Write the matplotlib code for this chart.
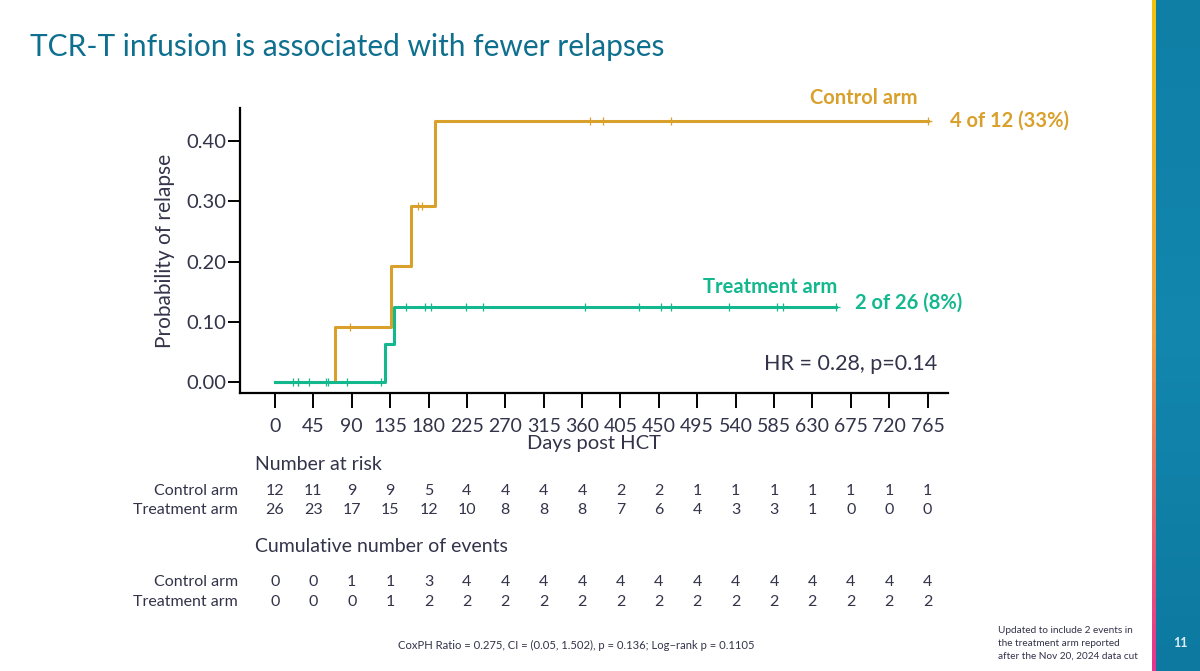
import numpy as np
import matplotlib.pyplot as plt
import matplotlib.transforms as mtransforms
from matplotlib.colors import LinearSegmentedColormap

plt.rcParams['font.family'] = ['Lato', 'DejaVu Sans']

# step curves (days, cumulative incidence)
control_t = [0, 70, 135.6, 160, 187.6, 765]
control_p = [0, 0.091, 0.192, 0.293, 0.434, 0.434]
treat_t = [0, 129, 140, 658]
treat_p = [0, 0.0625, 0.125, 0.125]

# censor marks (days)
control_cens = [27, 88, 168, 172, 369, 384, 464, 765]
treat_cens = [21, 27, 40, 60, 62, 84, 124, 154, 176, 183, 224, 244, 364,
              427, 453, 464, 532, 588, 595, 658]

ticks = list(range(0, 766, 45))
risk_control = [12, 11, 9, 9, 5, 4, 4, 4, 4, 2, 2, 1, 1, 1, 1, 1, 1, 1]
risk_treat = [26, 23, 17, 15, 12, 10, 8, 8, 8, 7, 6, 4, 3, 3, 1, 0, 0, 0]
events_control = [0, 0, 1, 1, 3, 4, 4, 4, 4, 4, 4, 4, 4, 4, 4, 4, 4, 4]
events_treat = [0, 0, 0, 1, 2, 2, 2, 2, 2, 2, 2, 2, 2, 2, 2, 2, 2, 2]

orange = '#D9A02B'
green = '#14B88E'
dark = '#33334A'
teal = '#0E6F8E'

W, H = 1200, 671
fig = plt.figure(figsize=(12, 6.71), dpi=100)


def fx(px):
    return px / W


def fy(py):
    return 1 - py / H


def level(times, probs, c):
    # value of the step curve at day c
    return probs[np.searchsorted(times, c, side='right') - 1]


ax = fig.add_axes([fx(240), fy(393), fx(948 - 240), (393 - 108) / H])
ax.set_xlim(-41, 789)
ax.set_ylim(-0.018, 0.455)

ax.step(control_t, control_p, where='post', color=orange, lw=2.2, zorder=2)
ax.step(treat_t, treat_p, where='post', color=green, lw=2.2, zorder=3)

# censor ticks on the curves
ax.plot(control_cens, [level(control_t, control_p, c) for c in control_cens],
        '+', color=orange, ms=6, mew=0.9, zorder=2)
ax.plot(treat_cens, [level(treat_t, treat_p, c) for c in treat_cens],
        '+', color=green, ms=6, mew=0.9, zorder=3)

for s in ['top', 'right']:
    ax.spines[s].set_visible(False)
for s in ['left', 'bottom']:
    ax.spines[s].set_linewidth(1.6)
    ax.spines[s].set_color('black')

ax.set_yticks([0, 0.1, 0.2, 0.3, 0.4])
ax.set_yticklabels(['0.00', '0.10', '0.20', '0.30', '0.40'])
ax.set_xticks(ticks)
ax.set_xticklabels([str(t) for t in ticks])
ax.tick_params(axis='y', direction='out', length=9, width=1.4, labelsize=14.5,
               labelcolor=dark, pad=1)
ax.tick_params(axis='x', direction='out', length=11, width=1.4, labelsize=14,
               labelcolor=dark, pad=7)
ax.set_ylabel('Probability of relapse', fontsize=15, color=dark, labelpad=8)
ax.set_xlabel('Days post HCT', fontsize=14.5, color=dark, labelpad=0)

# curve labels
fig.text(fx(917), fy(98), 'Control arm', color=orange, fontsize=14.5,
         fontweight='bold', ha='right', va='center')
fig.text(fx(950), fy(121), '4 of 12 (33%)', color=orange, fontsize=14.5,
         fontweight='bold', ha='left', va='center')
fig.text(fx(837), fy(287), 'Treatment arm', color=green, fontsize=14.5,
         fontweight='bold', ha='right', va='center')
fig.text(fx(855), fy(303), '2 of 26 (8%)', color=green, fontsize=14.5,
         fontweight='bold', ha='left', va='center')
fig.text(fx(937), fy(364), 'HR = 0.28, p=0.14', color=dark, fontsize=15.5,
         ha='right', va='center')

# title
fig.text(fx(30), fy(47), 'TCR-T infusion is associated with fewer relapses',
         color=teal, fontsize=21.5, ha='left', va='center')

# tables below the plot
blend = mtransforms.blended_transform_factory(ax.transData, fig.transFigure)
fig.text(fx(255), fy(464), 'Number at risk', color=dark, fontsize=14,
         ha='left', va='center')
fig.text(fx(255), fy(547), 'Cumulative number of events', color=dark,
         fontsize=14, ha='left', va='center')

rows = [(491, 'Control arm', risk_control), (510, 'Treatment arm', risk_treat),
        (582, 'Control arm', events_control), (602, 'Treatment arm', events_treat)]
for py, name, vals in rows:
    fig.text(fx(238), fy(py), name, color=dark, fontsize=11.5, ha='right', va='center')
    for t, v in zip(ticks, vals):
        ax.text(t, fy(py), str(v), color=dark, fontsize=11.5, ha='center',
                va='center', transform=blend)

fig.text(fx(576), fy(645),
         'CoxPH Ratio = 0.275, CI = (0.05, 1.502), p = 0.136; Log\u2212rank p = 0.1105',
         color=dark, fontsize=8.1, ha='center', va='center')
fig.text(fx(998), fy(643),
         'Updated to include 2 events in\nthe treatment arm reported\nafter the Nov 20, 2024 data cut',
         color=dark, fontsize=7.2, ha='left', va='center', linespacing=1.55)

# right side band
band = fig.add_axes([fx(1156), 0, fx(44), 1])
band.imshow(np.linspace(0, 1, 100).reshape(-1, 1), aspect='auto',
            cmap=LinearSegmentedColormap.from_list('b', ['#0F7FA6', '#1387AE', '#0D79A0']))
band.axis('off')
stripe = fig.add_axes([fx(1152), 0, fx(4), 1])
stripe.imshow(np.linspace(0, 1, 100).reshape(-1, 1), aspect='auto',
              cmap=LinearSegmentedColormap.from_list('s', ['#F4C20D', '#EFA040', '#E5358E']))
stripe.axis('off')
fig.text(fx(1180), fy(643), '11', color='#DDEFF5', fontsize=9, fontweight='bold',
         ha='center', va='center')

fig.savefig('out.png', dpi=100)
